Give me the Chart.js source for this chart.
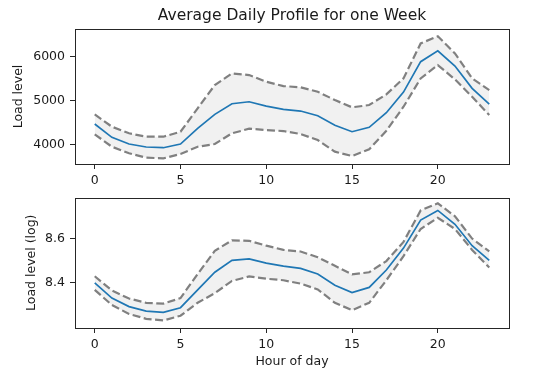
<!DOCTYPE html>
<html>
<head>
<meta charset="utf-8">
<script src="https://cdn.jsdelivr.net/npm/chart.js@4/dist/chart.umd.min.js"></script>
<style>
  html, body { margin: 0; padding: 0; background: #fff; }
  #wrap { position: relative; width: 550px; height: 379px; overflow: hidden; }
  canvas { position: absolute; left: 0; }
  #c1 { top: 0; }
  #c2 { top: 185px; }
</style>
</head>
<body>
<div id="wrap">
  <canvas id="c1" width="550" height="185"></canvas>
  <canvas id="c2" width="550" height="194"></canvas>
</div>
<script>
// ---- data ----
const hours = [0,1,2,3,4,5,6,7,8,9,10,11,12,13,14,15,16,17,18,19,20,21,22,23];
const xTicks = [0, 5, 10, 15, 20];

const loadMean  = [4465,4160,4007,3938,3922,4007,4366,4686,4929,4975,4876,4800,4762,4654,4435,4288,4389,4723,5197,5892,6142,5792,5281,4922];
const loadUpper = [4686,4403,4252,4174,4174,4288,4824,5357,5625,5586,5432,5334,5304,5204,5014,4847,4899,5144,5510,6311,6476,6082,5510,5243];
const loadLower = [4229,3945,3794,3693,3679,3778,3945,4007,4252,4357,4327,4304,4236,4098,3831,3732,3886,4311,4860,5510,5815,5487,5089,4670];
const loadTicks = [4000, 5000, 6000];

const logMean  = [8.400,8.332,8.294,8.274,8.268,8.289,8.369,8.448,8.501,8.508,8.489,8.475,8.465,8.440,8.390,8.357,8.380,8.458,8.556,8.682,8.725,8.663,8.567,8.501];
const logUpper = [8.430,8.366,8.330,8.311,8.307,8.332,8.440,8.544,8.591,8.589,8.567,8.548,8.541,8.515,8.477,8.438,8.448,8.498,8.584,8.725,8.757,8.699,8.599,8.541];
const logLower = [8.369,8.301,8.261,8.239,8.232,8.253,8.311,8.354,8.409,8.429,8.419,8.412,8.397,8.371,8.311,8.278,8.311,8.412,8.520,8.642,8.692,8.642,8.548,8.469];
const logTicks = [8.4, 8.6];

const titleText = 'Average Daily Profile for one Week';
const yLabelTop = 'Load level';
const yLabelBottom = 'Load level (log)';
const xLabelBottom = 'Hour of day';

// ---- styling ----
const FONT = "'DejaVu Sans', sans-serif";
const TXT = '#1a1a1a';
const AX = '#262626';
const BLUE = '#1f77b4';
const GREY = '#808080';
const FILL = '#f1f1f1';
const TICK_SIZE = 12.5;
const LABEL_SIZE = 12.5;
const TITLE_SIZE = 15.5;

const pts = arr => arr.map((v, i) => ({x: hours[i], y: v}));

const framePlugin = {
  id: 'frame',
  afterDraw(chart) {
    const a = chart.chartArea, ctx = chart.ctx;
    ctx.save();
    ctx.strokeStyle = AX;
    ctx.lineWidth = 1;
    const l = Math.round(a.left), t = Math.round(a.top), r = Math.round(a.right), b = Math.round(a.bottom);
    ctx.strokeRect(l + 0.5, t + 0.5, r - l, b - t);
    const title = chart.options.plugins.frame && chart.options.plugins.frame.title;
    if (title) {
      ctx.fillStyle = TXT;
      ctx.font = TITLE_SIZE + "px " + FONT;
      ctx.textAlign = 'center';
      ctx.textBaseline = 'middle';
      ctx.fillText(title, (a.left + a.right) / 2, 16);
    }
    ctx.restore();
  }
};

function makeChart(canvas, mean, upper, lower, opts) {
  return new Chart(canvas, {
    type: 'line',
    data: {
      datasets: [
        { data: pts(mean), borderColor: BLUE, borderWidth: 1.7, pointRadius: 0, fill: false, tension: 0 },
        { data: pts(upper), borderColor: GREY, borderWidth: 2.2, borderDash: [8, 3.5], pointRadius: 0,
          fill: 2, backgroundColor: FILL, tension: 0 },
        { data: pts(lower), borderColor: GREY, borderWidth: 2.2, borderDash: [8, 3.5], pointRadius: 0, fill: false, tension: 0 }
      ]
    },
    options: {
      responsive: false,
      animation: false,
      devicePixelRatio: 1,
      layout: { padding: { left: 0, right: 41, top: opts.padTop, bottom: 0 } },
      plugins: {
        legend: { display: false },
        tooltip: { enabled: false },
        title: { display: false },
        filler: { drawTime: 'beforeDatasetsDraw' },
        frame: { title: opts.title }
      },
      scales: {
        x: {
          type: 'linear', min: -1.15, max: 24.15,
          afterBuildTicks: s => { s.ticks = xTicks.map(v => ({value: v})); },
          afterFit: s => { s.height = opts.xHeight; },
          grid: { display: true, drawOnChartArea: false, drawTicks: true, tickLength: 5, color: AX, lineWidth: 1 },
          border: { display: false },
          ticks: { color: TXT, font: { family: FONT, size: TICK_SIZE }, padding: 4, maxRotation: 0, autoSkip: false },
          title: opts.xTitle ? {
            display: true, text: opts.xTitle, color: TXT,
            font: { family: FONT, size: LABEL_SIZE, lineHeight: 1.2 }, padding: { top: 2, bottom: 9.5 }
          } : { display: false }
        },
        y: {
          type: 'linear', min: opts.yMin, max: opts.yMax,
          afterBuildTicks: s => { s.ticks = opts.yTicks.map(v => ({value: v})); },
          afterFit: s => { s.width = 75; },
          grid: { display: true, drawOnChartArea: false, drawTicks: true, tickLength: 5, color: AX, lineWidth: 1 },
          border: { display: false },
          ticks: { color: TXT, font: { family: FONT, size: TICK_SIZE }, padding: 5,
                   callback: v => opts.fmt(v) },
          title: {
            display: true, text: opts.yTitle, color: TXT,
            font: { family: FONT, size: LABEL_SIZE, lineHeight: 1.2 }, padding: { top: opts.yTitlePad, bottom: 0 }
          }
        }
      }
    },
    plugins: [framePlugin]
  });
}

makeChart(document.getElementById('c1'), loadMean, loadUpper, loadLower, {
  title: titleText, padTop: 29, xHeight: 21, yMin: 3549, yMax: 6641, yTicks: loadTicks,
  yTitle: yLabelTop, yTitlePad: 11, fmt: v => String(Math.round(v))
});
makeChart(document.getElementById('c2'), logMean, logUpper, logLower, {
  title: null, padTop: 7, xHeight: 51, yMin: 8.198, yMax: 8.783, yTicks: logTicks,
  yTitle: yLabelBottom, yTitlePad: 24.5, xTitle: xLabelBottom, fmt: v => v.toFixed(1)
});
</script>
</body>
</html>
